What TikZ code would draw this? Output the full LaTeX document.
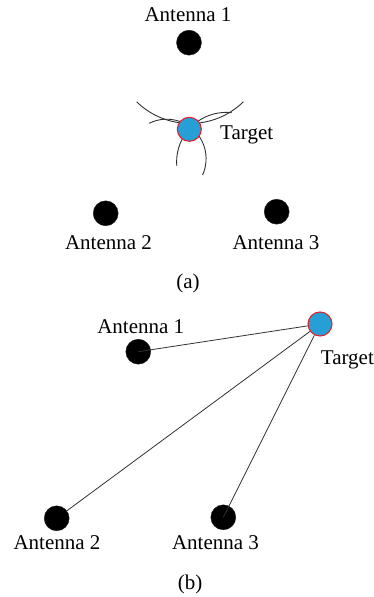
\documentclass[tikz,border=0pt]{standalone}
\usepackage{fontspec}
\setmainfont{Liberation Serif}
\definecolor{tgtblue}{RGB}{38,158,214}
\definecolor{tgtred}{RGB}{226,36,44}
\definecolor{inkgray}{RGB}{50,50,50}
\begin{document}
\begin{tikzpicture}[x=1pt,y=1pt,
  antenna/.style={circle,fill=black,draw=black!85,line width=0.4pt,minimum size=25pt,inner sep=0pt},
  target/.style={circle,fill=tgtblue,draw=tgtred,line width=1.1pt,minimum size=24pt,inner sep=0pt},
  lbl/.style={font=\fontsize{21}{24}\selectfont,inner sep=0pt},
  rangearc/.style={draw=inkgray,line width=0.9pt},
  link/.style={draw=inkgray,line width=0.8pt}]
\useasboundingbox (0,0) rectangle (373,597);

% ---- panel (a): range circles meeting at the target ----
\node[antenna] (a1) at (189,554.3) {};
\node[antenna] (a2) at (105.7,383.7) {};
\node[antenna] (a3) at (276.7,385.3) {};
\node[lbl,anchor=base] (a1l) at (188,575.3) {Antenna 1};
\node[lbl,anchor=base] (a2l) at (108.5,347) {Antenna 2};
\node[lbl,anchor=base] (a3l) at (276,347) {Antenna 3};

\draw[rangearc] (190,550) ++(225.7:76.5) arc[start angle=225.7,end angle=314.3,radius=76.5];
\draw[rangearc] (166.6,438.3) ++(116.4:39.5) arc[start angle=116.4,end angle=-24.3,radius=39.5];
\draw[rangearc] (226.2,435) ++(83.6:49.6) arc[start angle=83.6,end angle=184.6,radius=49.6];

\node[target] (ta) at (189.3,467.7) {};
\node[lbl,anchor=base west] (tal) at (220,457) {Target};
\node[lbl,anchor=base] (capa) at (188,308) {(a)};

% ---- panel (b): distances from the target to each antenna ----
\node[antenna] (b1) at (138.3,245.3) {};
\node[antenna] (b2) at (56.7,78.7) {};
\node[antenna] (b3) at (223.3,79.7) {};
\node[lbl,anchor=base] (b1l) at (140.7,263) {Antenna 1};
\node[lbl,anchor=base] (b2l) at (57,47) {Antenna 2};
\node[lbl,anchor=base] (b3l) at (215.5,47) {Antenna 3};

\node[target] (tb) at (320,273) {};
\node[lbl,anchor=base west] (tbl) at (320.7,232) {Target};

\draw[link] (tb) -- (b1.center);
\draw[link] (tb) -- (b2);
\draw[link] (tb) -- (b3.center);

\node[lbl,anchor=base] (capb) at (190,8) {(b)};
\end{tikzpicture}
\end{document}
